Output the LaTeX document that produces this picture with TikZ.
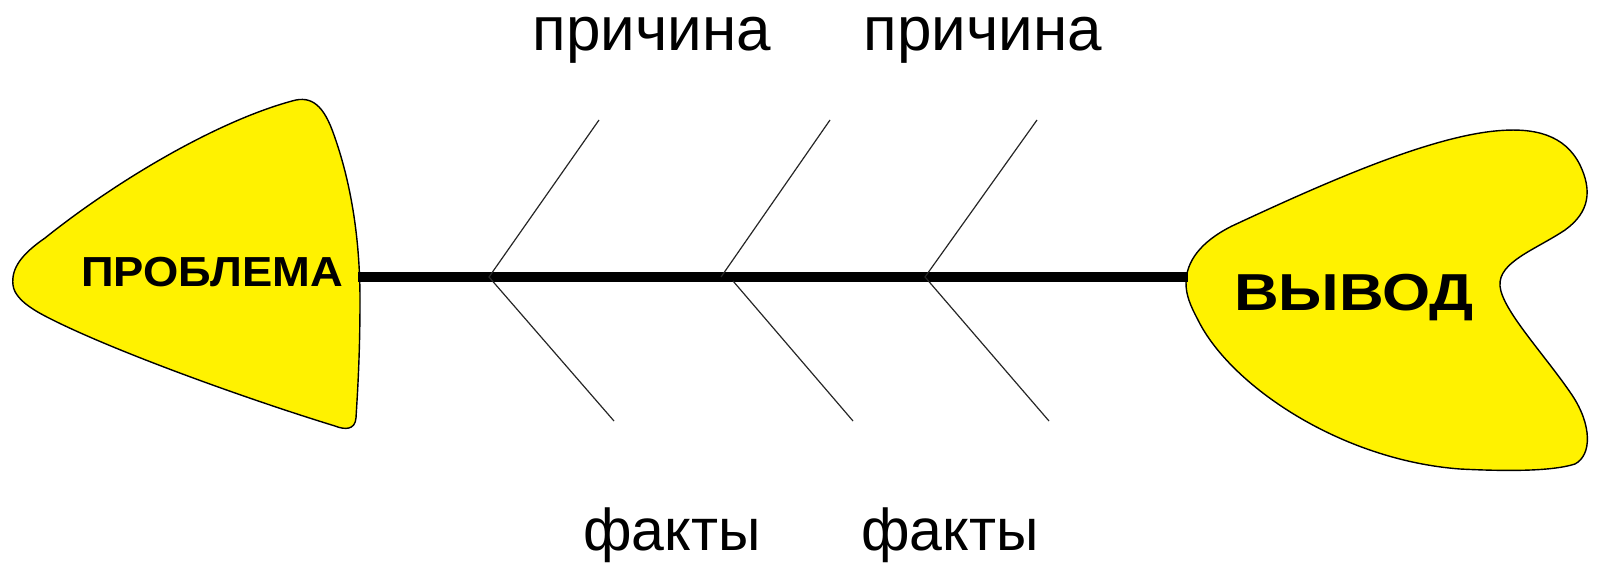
\documentclass[tikz,border=0pt]{standalone}
\usepackage{fontspec}
\setmainfont{Liberation Sans}
\usetikzlibrary{positioning}

\begin{document}
\begin{tikzpicture}[
        x=1pt, y=-1pt,
        blob/.style={draw=black, fill=yellow, line width=1.4pt},
        spine/.style={line width=10pt},
        bone/.style={line width=1.2pt, black!85},
        lbl/.style={inner sep=0pt, anchor=base, font=\fontsize{62}{64}\selectfont},
        head/.style={inner sep=0pt, anchor=base, font=\bfseries\fontsize{42}{44}\selectfont}
    ]
    \useasboundingbox (0,0) rectangle (1597,562);

    % head and tail
    \draw[blob] (13,285) .. controls (11,268) and (22,254) .. (45,238)
        .. controls (115,182) and (215,122) .. (292,101)
        .. controls (312,95) and (324,106) .. (334,135)
        .. controls (350,180) and (360,235) .. (360,300)
        .. controls (360,360) and (357,400) .. (356,418)
        .. controls (355,430) and (345,430) .. (335,426)
        .. controls (250,400) and (110,350) .. (45,316)
        .. controls (22,304) and (14,294) .. (13,285) -- cycle;
    \draw[blob] (1186,283) .. controls (1186,262) and (1200,242) .. (1232,226)
        .. controls (1320,185) and (1425,138) .. (1495,131)
        .. controls (1535,127) and (1565,135) .. (1580,165)
        .. controls (1592,190) and (1590,212) .. (1565,230)
        .. controls (1535,250) and (1498,262) .. (1500,286)
        .. controls (1502,310) and (1545,355) .. (1572,395)
        .. controls (1592,425) and (1592,455) .. (1575,464)
        .. controls (1550,472) and (1500,471) .. (1460,469)
        .. controls (1340,460) and (1230,385) .. (1198,320)
        .. controls (1190,305) and (1186,295) .. (1186,283) -- cycle;

    \node[head] (problema) at (212,286) {\scalebox{1.08}[1]{ПРОБЛЕМА}};
    \node[head, font=\bfseries\fontsize{52}{54}\selectfont] (vyvod) at (1354,310) {\scalebox{1.19}[1]{ВЫВОД}};

    % spine
    \coordinate (s0) at (358,277);
    \coordinate (s1) at (1188,277);
    \draw[spine] (s0) -- (s1);

    % bones
    \coordinate (j1) at (489,277);  \coordinate (u1) at (599,120);  \coordinate (l1) at (614,421);
    \coordinate (j2) at (721,277);  \coordinate (k2) at (733,281);
    \coordinate (u2) at (830,120);  \coordinate (l2) at (853,421);
    \coordinate (j3) at (925,277);  \coordinate (u3) at (1037,120); \coordinate (l3) at (1049,421);
    \draw[bone] (u1) -- (j1) -- (l1);
    \draw[bone] (u2) -- (j2);
    \draw[bone] (k2) -- (l2);
    \draw[bone] (u3) -- (j3) -- (l3);

    % labels
    \node[lbl] (prichina1) at (652,50) {причина};
    \node[lbl] (prichina2) at (983,50) {причина};
    \node[lbl, font=\fontsize{59}{61}\selectfont] (fakty1) at (672,550) {факты};
    \node[lbl, font=\fontsize{59}{61}\selectfont] (fakty2) at (950,550) {факты};
\end{tikzpicture}
\end{document}
